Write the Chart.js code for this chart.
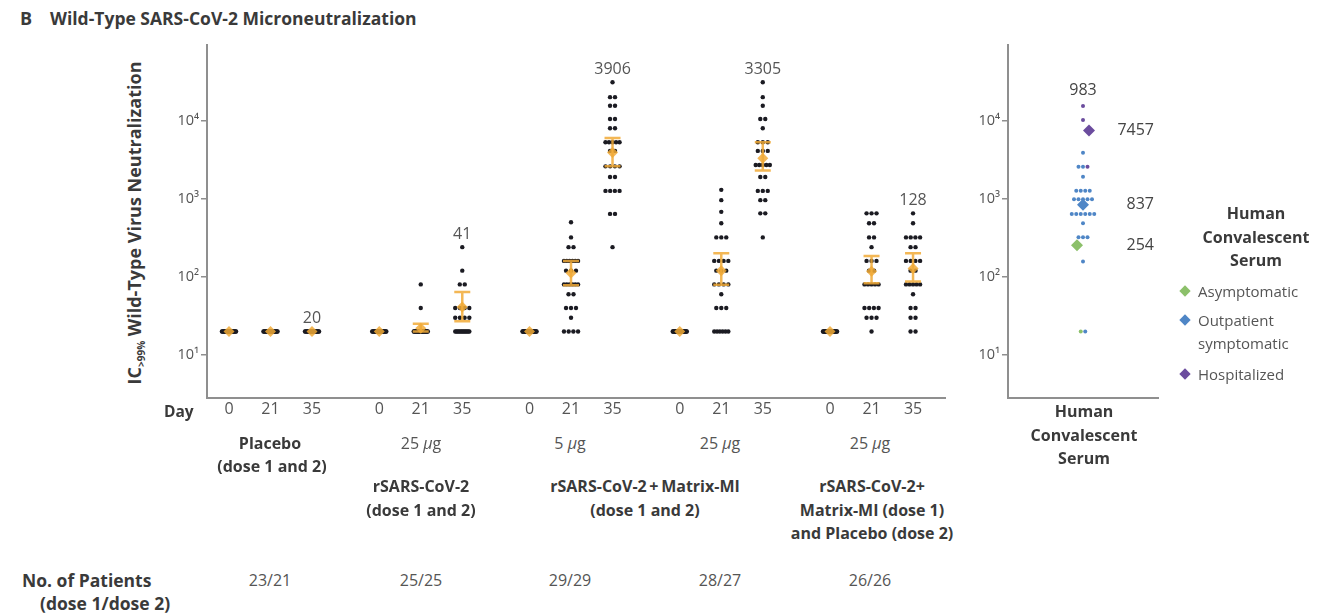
<!DOCTYPE html>
<html>
<head>
<meta charset="utf-8">
<script src="https://cdn.jsdelivr.net/npm/chart.js@4.4.1/dist/chart.umd.min.js"></script>
<style>
  body { margin: 0; width: 1342px; height: 615px; background: #fff; position: relative; overflow: hidden;
         font-family: "Open Sans", sans-serif; color: #3a3a3a; }
  .t { position: absolute; white-space: nowrap; font-size: 16px; line-height: 20px; }
  .c { transform: translateX(-50%); text-align: center; }
  .b { font-weight: bold; font-size: 16px; }
  .g { color: #555; }
  #left { position: absolute; left: 0; top: 0; }
  #right { position: absolute; left: 960px; top: 0; }
  #ytitle { position: absolute; left: 135px; top: 223px; transform: translate(-50%, -50%) rotate(-90deg);
            white-space: nowrap; font-weight: bold; font-size: 18px; }
  #ytitle sub { font-size: 10px; }
  .dia { position: absolute; width: 8px; height: 8px; transform: rotate(45deg); }
</style>
</head>
<body>
<div class="t b" style="left:20px;top:8px;font-size:18px">B</div>
<div class="t b" style="left:50px;top:8px;font-size:17.5px">Wild-Type SARS-CoV-2 Microneutralization</div>
<div id="ytitle">IC<sub>&gt;99%</sub> Wild-Type Virus Neutralization</div>

<canvas id="left" width="960" height="430"></canvas>
<canvas id="right" width="382" height="430"></canvas>

<div class="t b" style="left:164px;top:401px;font-size:15.5px">Day</div>

<div class="t b c" style="left:270px;top:433px">Placebo</div>
<div class="t b c" style="left:272px;top:456px">(dose 1 and 2)</div>
<div class="t c g" style="left:421px;top:433px">25 <i>µ</i>g</div>
<div class="t b c" style="left:421px;top:476px">rSARS-CoV-2</div>
<div class="t b c" style="left:421px;top:500px">(dose 1 and 2)</div>
<div class="t c g" style="left:570px;top:433px">5 <i>µ</i>g</div>
<div class="t c g" style="left:720px;top:433px">25 <i>µ</i>g</div>
<div class="t b c" style="left:645px;top:476px">rSARS-CoV-2&thinsp;+&thinsp;Matrix-MI</div>
<div class="t b c" style="left:645px;top:500px">(dose 1 and 2)</div>
<div class="t c g" style="left:870px;top:433px">25 <i>µ</i>g</div>
<div class="t b c" style="left:872px;top:476px">rSARS-CoV-2+</div>
<div class="t b c" style="left:872px;top:500px">Matrix-MI (dose 1)</div>
<div class="t b c" style="left:872px;top:523px">and Placebo (dose 2)</div>

<div class="t b" style="left:22px;top:570px;font-size:17.5px">No. of Patients</div>
<div class="t b" style="left:40px;top:593px;font-size:17.5px">(dose 1/dose 2)</div>
<div id="counts"></div>

<div class="t b c" style="left:1084px;top:401px">Human</div>
<div class="t b c" style="left:1084px;top:425px">Convalescent</div>
<div class="t b c" style="left:1084px;top:448px">Serum</div>

<div class="t b c" style="left:1256px;top:203px">Human</div>
<div class="t b c" style="left:1256px;top:227px">Convalescent</div>
<div class="t b c" style="left:1256px;top:250px">Serum</div>
<div id="legend"></div>

<script>
// groups along the x axis, three days each
const groupNames = ["Placebo", "rSARS-CoV-2 25 µg", "rSARS-CoV-2+Matrix-MI 5 µg",
                    "rSARS-CoV-2+Matrix-MI 25 µg", "rSARS-CoV-2+Matrix-MI / Placebo 25 µg"];
const days = ["0", "21", "35"];
const patients = ["23/21", "25/25", "29/29", "28/27", "26/26"];
const yTicks = [10, 100, 1000, 10000];

// individual titers per column: [titer, number of participants at that titer]
const placeboD0 = [[20, 23]];
const placeboD21 = [[20, 23]];
const placeboD35 = [[20, 21]];
const rs25D0 = [[20, 25]];
const rs25D21 = [[80, 1], [40, 1], [20, 23]];
const rs25D35 = [[240, 1], [120, 1], [80, 2], [40, 4], [30, 4], [20, 13]];
const mm5D0 = [[20, 29]];
const mm5D21 = [[500, 1], [320, 1], [240, 2], [160, 6], [120, 3], [80, 6], [60, 2], [40, 3], [30, 1], [20, 4]];
const mm5D35 = [[31000, 1], [20000, 2], [15500, 2], [10500, 2], [8000, 2], [5300, 5], [4100, 2],
                [2600, 4], [1900, 2], [1260, 4], [640, 2], [240, 1]];
const mm25D0 = [[20, 28]];
const mm25D21 = [[1300, 1], [960, 1], [680, 1], [485, 1], [320, 3], [160, 4], [120, 3], [80, 4], [60, 1], [40, 3], [20, 6]];
const mm25D35 = [[31000, 1], [20000, 1], [15500, 1], [10500, 2], [8000, 1], [5300, 3], [4100, 3],
                 [2700, 5], [1900, 2], [1260, 3], [960, 2], [650, 2], [320, 1]];
const mmPlD0 = [[20, 26]];
const mmPlD21 = [[650, 3], [485, 2], [320, 2], [240, 1], [160, 3], [120, 2], [80, 5], [40, 4], [30, 3], [20, 1]];
const mmPlD35 = [[650, 1], [485, 1], [320, 4], [240, 2], [160, 4], [120, 2], [80, 5], [60, 1], [40, 2], [30, 2], [20, 2]];

const columns = [placeboD0, placeboD21, placeboD35, rs25D0, rs25D21, rs25D35, mm5D0, mm5D21, mm5D35,
                 mm25D0, mm25D21, mm25D35, mmPlD0, mmPlD21, mmPlD35];

// geometric mean titers and 95% CI per column
const gmt = [20, 20, 20, 20, 22, 41, 20, 112, 3906, 20, 120, 3305, 20, 118, 128];
const ciLow = [20, 20, 20, 20, 20, 27, 20, 78, 2600, 20, 79, 2300, 20, 83, 87];
const ciHigh = [20, 20, 20, 20, 25, 64, 20, 160, 6000, 20, 200, 5300, 20, 185, 200];
const day35Labels = ["20", "41", "3906", "3305", "128"];

// human convalescent serum
const convAsymptomatic = [[20, 1]];
const convOutpatient = [[3890, 1], [2575, 2], [1920, 1], [1270, 4], [986, 5], [638, 6], [485, 1],
                        [321, 3], [157, 1], [20, 1]];
const convHospitalized = [[15400, 1], [10200, 1], [2575, 1]];
const convGmt = [254, 837, 7457];
const convGmtAll = "983";
const convNames = ["Asymptomatic", "Outpatient symptomatic", "Hospitalized"];
const convColors = ["#8cc06a", "#4f86c6", "#6b4c9e"];

const ORANGE = "rgba(241,170,55,0.85)";
const AXIS = "#8f8f8f";
const FONT = "'Open Sans', sans-serif";

const colX = (i) => Math.floor(i / 3) * 3.62 + (i % 3);

// spread equal titers side by side
function swarm(pairs, center, step, maxSpan) {
    const pts = [];
    pairs.forEach(([v, n]) => {
        const span = Math.min((n - 1) * step, maxSpan);
        for (let i = 0; i < n; i++) {
            const off = n === 1 ? 0 : -span / 2 + (span * i) / (n - 1);
            pts.push({ x: center + off, y: v });
        }
    });
    return pts;
}

const supers = { 1: "¹", 2: "²", 3: "³", 4: "⁴" };
const yTickLabel = (v) => "10" + supers[Math.round(Math.log10(v))];

const yScaleBase = (width) => ({
    type: "logarithmic",
    min: 2.81,
    max: 93100,
    afterBuildTicks: (s) => { s.ticks = yTicks.map((v) => ({ value: v })); },
    afterFit: (s) => { s.width = width; },
    ticks: { callback: yTickLabel, color: "#555", font: { family: FONT, size: 14.5 }, padding: 2, autoSkip: false },
    grid: { display: true, drawOnChartArea: false, drawTicks: true, tickLength: 6, color: AXIS, lineWidth: 1.5 },
    border: { display: true, color: AXIS, width: 2 },
});

// error bars drawn over the dots, under the diamonds
const errorBars = {
    id: "errorBars",
    afterDatasetDraw(chart, args) {
        if (args.index !== 0) return;
        const { ctx, scales: { x, y } } = chart;
        ctx.save();
        ctx.strokeStyle = ORANGE;
        ctx.lineWidth = 2.5;
        gmt.forEach((g, i) => {
            if (ciLow[i] === ciHigh[i]) return;
            const px = x.getPixelForValue(colX(i));
            const yl = y.getPixelForValue(ciLow[i]);
            const yh = y.getPixelForValue(ciHigh[i]);
            ctx.beginPath();
            ctx.moveTo(px, yl); ctx.lineTo(px, yh);
            ctx.moveTo(px - 8, yl); ctx.lineTo(px + 8, yl);
            ctx.moveTo(px - 8, yh); ctx.lineTo(px + 8, yh);
            ctx.stroke();
        });
        ctx.restore();
    },
    afterDraw(chart) {
        const { ctx, scales: { x, y } } = chart;
        ctx.save();
        ctx.fillStyle = "#555";
        ctx.font = "16px " + FONT;
        ctx.textAlign = "center";
        ctx.textBaseline = "bottom";
        day35Labels.forEach((lab, g) => {
            const i = g * 3 + 2;
            const top = Math.max(...columns[i].map((p) => p[0]));
            ctx.fillText(lab, x.getPixelForValue(colX(i)), y.getPixelForValue(top) - 5);
        });
        ctx.restore();
    },
};

const dotPoints = columns.flatMap((col, i) => swarm(col, colX(i), 0.12, 0.34));
const tickPositions = columns.map((c, i) => colX(i));

new Chart(document.getElementById("left"), {
    type: "scatter",
    data: {
        datasets: [
            { data: dotPoints, pointRadius: 2.2, pointBackgroundColor: "#1b1b22", pointBorderWidth: 0, order: 2 },
            { data: gmt.map((g, i) => ({ x: colX(i), y: g })), pointStyle: "rectRot", pointRadius: 5.5,
              pointBackgroundColor: ORANGE, pointBorderWidth: 0, order: 1 },
        ],
    },
    options: {
        responsive: false,
        animation: false,
        layout: { padding: { top: 45, right: 15, bottom: 0, left: 0 } },
        plugins: { legend: { display: false }, tooltip: { enabled: false } },
        scales: {
            x: {
                type: "linear",
                min: -0.53,
                max: 17.25,
                afterBuildTicks: (s) => { s.ticks = tickPositions.map((v) => ({ value: v })); },
                afterFit: (s) => { s.height = 32; },
                ticks: { callback: (v, i) => days[i % 3], color: "#555", font: { family: FONT, size: 16 },
                         padding: 2, autoSkip: false, maxRotation: 0 },
                grid: { display: false, drawTicks: false },
                border: { display: true, color: AXIS, width: 2 },
            },
            y: yScaleBase(207),
        },
    },
    plugins: [errorBars],
});

// right panel
const convAll = [convAsymptomatic, convOutpatient, convHospitalized];
const convPoints = [];
const merged = {};
convAll.forEach((list, k) => list.forEach(([v, n]) => {
    for (let j = 0; j < n; j++) (merged[v] = merged[v] || []).push(k);
}));
Object.keys(merged).forEach((v) => {
    const ks = merged[v];
    const pts = swarm([[Number(v), ks.length]], 1, 0.06, 0.4);
    pts.forEach((p, j) => convPoints.push({ ...p, k: ks[j] }));
});

const convLabels = {
    id: "convLabels",
    afterDraw(chart) {
        const { ctx, scales: { x, y } } = chart;
        const cx = x.getPixelForValue(1);
        ctx.save();
        ctx.fillStyle = "#444";
        ctx.font = "16px " + FONT;
        ctx.textBaseline = "middle";
        ctx.textAlign = "right";
        convGmt.forEach((g) => ctx.fillText(String(g), cx + 71, y.getPixelForValue(g)));
        ctx.textAlign = "center";
        ctx.textBaseline = "bottom";
        const top = Math.max(...convPoints.map((p) => p.y));
        ctx.fillText(convGmtAll, cx, y.getPixelForValue(top) - 8);
        ctx.restore();
    },
};

new Chart(document.getElementById("right"), {
    type: "scatter",
    data: {
        datasets: [
            { data: convPoints, pointRadius: 2, pointBorderWidth: 0,
              pointBackgroundColor: convPoints.map((p) => convColors[p.k]), order: 2 },
            { data: convGmt.map((g, k) => ({ x: 1 + (k - 1) * 0.08, y: g })), pointStyle: "rectRot", pointRadius: 6,
              pointBorderWidth: 0, pointBackgroundColor: convColors, order: 1 },
        ],
    },
    options: {
        responsive: false,
        animation: false,
        layout: { padding: { top: 45, right: 184, bottom: 0, left: 0 } },
        plugins: { legend: { display: false }, tooltip: { enabled: false } },
        scales: {
            x: {
                type: "linear", min: 0, max: 2,
                afterFit: (s) => { s.height = 32; },
                ticks: { display: false },
                grid: { display: false, drawTicks: false },
                border: { display: true, color: AXIS, width: 2 },
            },
            y: yScaleBase(48),
        },
    },
    plugins: [convLabels],
});

// patient counts row
const xPix = [270, 421, 570, 720, 870];
document.getElementById("counts").innerHTML = patients
    .map((p, g) => `<div class="t c g" style="left:${xPix[g]}px;top:570px">${p}</div>`).join("");

// legend
const legendRows = [[291], [320, 343], [374]];
document.getElementById("legend").innerHTML = convNames.map((name, k) => {
    const ys = legendRows[k];
    const words = k === 1 ? ["Outpatient", "symptomatic"] : [name];
    return `<div class="dia" style="left:1181px;top:${ys[0] - 4}px;background:${convColors[k]}"></div>` +
        words.map((w, j) => `<div class="t g" style="left:1198px;top:${ys[j] - 10}px;font-size:15px">${w}</div>`).join("");
}).join("");
</script>
</body>
</html>
